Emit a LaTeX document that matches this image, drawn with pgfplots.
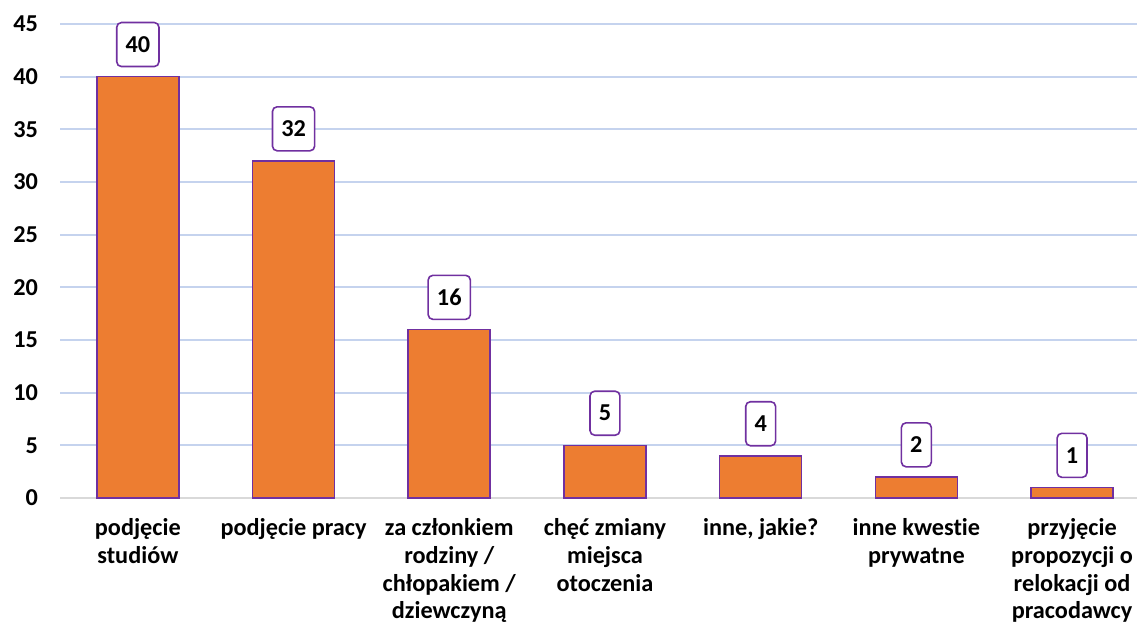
\documentclass[border=0pt]{standalone}
\usepackage{pgfplots}
\pgfplotsset{compat=1.18}
\usepackage{fontspec}
\setmainfont{Carlito}[Ligatures=NoCommon]
\definecolor{barorange}{HTML}{ED7D31}
\definecolor{barpurple}{HTML}{7030A0}
\definecolor{gridblue}{HTML}{C5D3EE}
\definecolor{axisgray}{HTML}{D9D9D9}
\begin{document}
\begin{tikzpicture}
\useasboundingbox (-45pt,-96pt) rectangle (807.75pt,373.5pt);
\begin{axis}[
  at={(0,0)}, anchor=south west,
  scale only axis, width=807.75pt, height=355.5pt,
  xmin=-0.5, xmax=6.417, ymin=0, ymax=45,
  axis line style={draw=none},
  /pgf/number format/assume math mode=true,
  ytick={0,5,...,45},
  ymajorgrids, grid style={gridblue, line width=1.4pt},
  extra y ticks={0}, extra y tick labels={},
  extra y tick style={grid style={axisgray, line width=1.5pt}},
  major tick length=0,
  xtick={0,...,6},
  xticklabels={{podjęcie\\studiów},{podjęcie pracy},{za członkiem\\rodziny /\\chłopakiem /\\dziewczyną},{chęć zmiany\\miejsca\\otoczenia},{inne, jakie?},{inne kwestie\\prywatne},{przyjęcie\\propozycji o\\relokacji od\\pracodawcy}},
  xticklabel style={align=center, anchor=north, yshift=-12pt, font=\bfseries\fontsize{18.2}{20.8}\selectfont},
  yticklabel style={font=\bfseries\fontsize{18.2}{20}\selectfont, xshift=-13pt},
  ybar, bar width=61.5pt,
  nodes near coords,
  nodes near coords style={draw=barpurple, line width=1.2pt, fill=white, rounded corners=3.5pt, font=\bfseries\fontsize{18.2}{20}\selectfont, anchor=south, yshift=7pt, inner xsep=6.6pt, minimum height=33pt, text=black},
]
\addplot[fill=barorange, draw=barpurple, line width=1.2pt] coordinates {(0,40) (1,32) (2,16) (3,5) (4,4) (5,2) (6,1)};
\end{axis}
\end{tikzpicture}
\end{document}
